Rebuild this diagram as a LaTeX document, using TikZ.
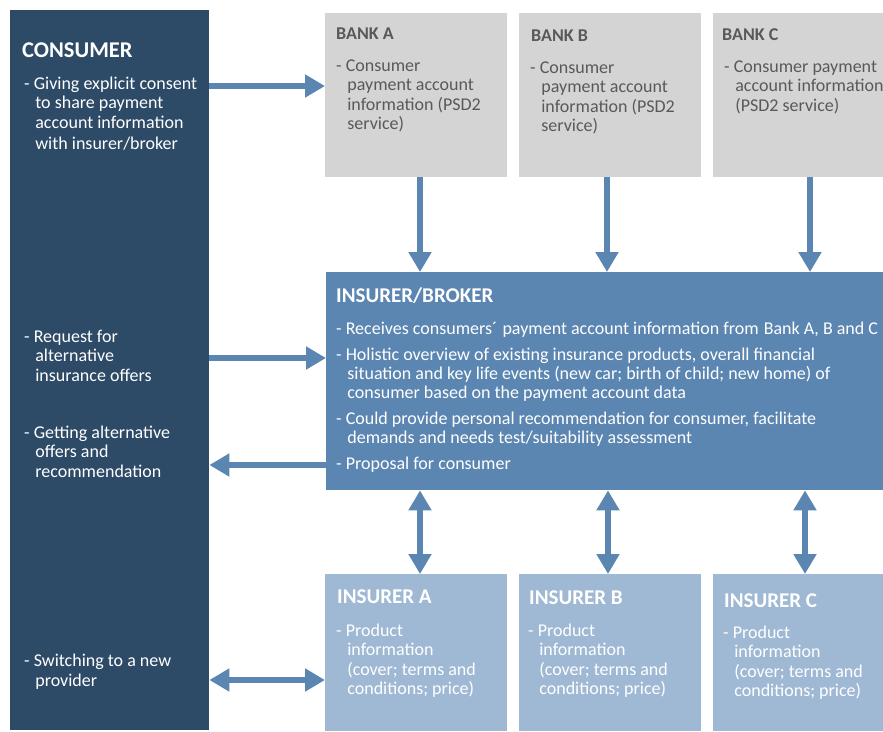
\documentclass[tikz,border=0pt]{standalone}
\usepackage{fontspec}
\setmainfont{Carlito}
\usetikzlibrary{arrows.meta}
\definecolor{consumerblue}{RGB}{45,74,103}
\definecolor{brokerblue}{RGB}{92,134,178}
\definecolor{insurerblue}{RGB}{159,185,212}
\definecolor{bankgrey}{RGB}{212,212,212}
\definecolor{banktext}{RGB}{89,89,89}
\newcommand{\ind}{\hspace*{0.62em}}
\tikzset{
  box/.style={anchor=north west, inner sep=0pt, draw=none},
  title/.style={anchor=base west, inner sep=0pt, font=\fontsize{21}{24}\selectfont\bfseries, text=white},
  banktitle/.style={anchor=base west, inner sep=0pt, font=\fontsize{18}{20}\selectfont\bfseries, text=banktext},
  txt/.style={anchor=base west, inner sep=0pt, align=left, font=\fontsize{18}{19.5}\selectfont, text=white},
  arr/.style={draw=brokerblue, line width=5.5pt, -{Triangle[width=22pt,length=20pt]}},
  arrtwo/.style={draw=brokerblue, line width=5.5pt, {Triangle[width=22pt,length=20pt]}-{Triangle[width=22pt,length=20pt]}}
}
\begin{document}
\begin{tikzpicture}[x=1pt,y=-1pt]
	\clip (0,0) rectangle (883,731);
	\fill[white] (0,0) rectangle (883,731);
	\node[box, fill=consumerblue, minimum width=199pt, minimum height=720pt] (consumer) at (10,10) {};
	\foreach \n/\x/\w in {A/325/182, B/519/182, C/713/175}
	{
		\node[box, fill=bankgrey, minimum width=\w pt, minimum height=164pt] (bank\n) at (\x,13) {};
		\node[box, fill=insurerblue, minimum width=\w pt, minimum height=157pt] (insurer\n) at (\x,574) {};
	}
	\node[box, fill=brokerblue, minimum width=560pt, minimum height=218pt] (broker) at (326,272) {};
	\node[title, font=\fontsize{22.5}{24}\selectfont\bfseries] (consumertitle) at (22,57) {CONSUMER};
	\node[txt] (giving) at (24,149) {- Giving explicit consent\\\ind to share payment\\\ind account information\\[1.5pt]\ind with insurer/broker};
	\node[txt] (request) at (24,381) {- Request for\\\ind alternative\\\ind insurance offers};
	\node[txt] (getting) at (24,477) {- Getting alternative\\\ind offers and\\\ind recommendation};
	\node[txt] (switching) at (24,686) {- Switching to a new\\\ind provider};
	\node[banktitle] (bankAtitle) at (336,39) {BANK A};
	\node[banktitle] (bankBtitle) at (531,41) {BANK B};
	\node[banktitle] (bankCtitle) at (722,40) {BANK C};
	\node[txt, text=banktext] (bankAtext) at (336,129.5) {- Consumer\\\ind payment account\\\ind information (PSD2\\\ind service)};
	\node[txt, text=banktext] (bankBtext) at (530,131.5) {- Consumer\\\ind payment account\\\ind information (PSD2\\\ind service)};
	\node[txt, text=banktext] (bankCtext) at (724,111) {- Consumer payment\\\ind account information\\\ind (PSD2 service)};
	\node[title] (brokertitle) at (336,302) {INSURER/BROKER};
	\node[txt, font=\fontsize{18}{18.7}\selectfont] (brokertext) at (336,469) {- Receives consumers´\hspace{1pt} payment account information from\hspace{1pt} Bank A, B and C\\[7.3pt]- Holistic overview of existing insurance products, overall financial\\\ind situation and key life events (new car; birth of child; new home) of\\\ind consumer based on the payment account data\\[7.3pt]- Could provide personal recommendation for consumer, facilitate\\\ind demands and needs test/suitability assessment\\[7.3pt]- Proposal for consumer};
	\node[title] (insurerAtitle) at (337,603) {INSURER A};
	\node[title] (insurerBtitle) at (529,604) {INSURER B};
	\node[title] (insurerCtitle) at (724,607) {INSURER C};
	\node[txt] (insurerAtext) at (336,694.5) {- Product\\\ind information\\\ind (cover; terms and\\\ind conditions; price)};
	\node[txt] (insurerBtext) at (528,694.5) {- Product\\\ind information\\\ind (cover; terms and\\\ind conditions; price)};
	\node[txt] (insurerCtext) at (723,696.5) {- Product\\\ind information\\\ind (cover; terms and\\\ind conditions; price)};
	\draw[arr] (consumer.east |- 0,86) -- (bankA.west |- 0,86);
	\draw[arr] (consumer.east |- 0,358) -- (broker.west |- 0,358);
	\draw[arr] (broker.west |- 0,465) -- (consumer.east |- 0,465);
	\draw[arrtwo] (consumer.east |- 0,680) -- (insurerA.west |- 0,680);
	\foreach \n/\x in {A/420, B/607, C/810}
		\draw[arr] (bank\n.south -| \x,0) -- (broker.north -| \x,0);
	\foreach \n/\x in {A/420, B/608, C/805}
		\draw[arrtwo] (broker.south -| \x,0) -- (insurer\n.north -| \x,0);
\end{tikzpicture}
\end{document}
